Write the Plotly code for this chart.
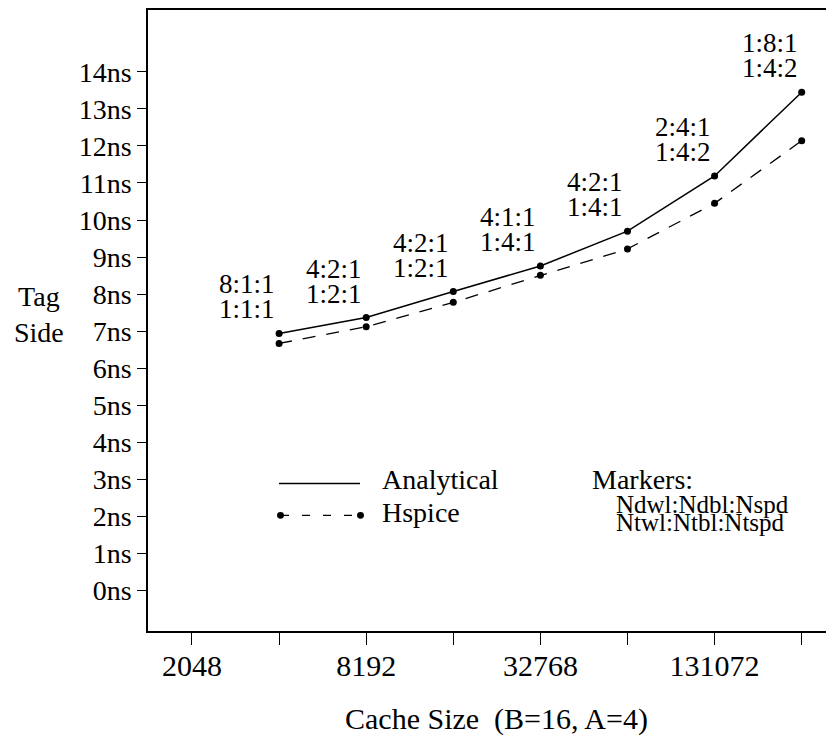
import numpy as np
import plotly.graph_objects as go

# ---- data ----
cache_sizes = [4096, 8192, 16384, 32768, 65536, 131072, 262144]
analytical_ns = [6.94, 7.37, 8.07, 8.76, 9.70, 11.19, 13.45]
hspice_ns = [6.67, 7.12, 7.78, 8.51, 9.22, 10.45, 12.14]
marker_upper = ["8:1:1", "4:2:1", "4:2:1", "4:1:1", "4:2:1", "2:4:1", "1:8:1"]
marker_lower = ["1:1:1", "1:2:1", "1:2:1", "1:4:1", "1:4:1", "1:4:2", "1:4:2"]
x_tick_vals = [2048, 4096, 8192, 16384, 32768, 65536, 131072, 262144]
x_tick_text = ["2048", "", "8192", "", "32768", "", "131072", ""]
y_tick_vals = list(range(0, 15))
y_tick_text = [f"{v}ns" for v in y_tick_vals]

FONT = "Liberation Serif"
OFF = 8  # page body margin
W, H = 826, 734
ML, MR, MT, MB = 140, 0, 0, 111
PW, PH = W - ML - MR, H - MT - MB


def px(xp):
    return (xp - OFF - ML) / PW


def py(yp):
    return (H - MB - (yp - OFF)) / PH


fig = go.Figure()
fig.add_trace(go.Scatter(
    x=cache_sizes, y=analytical_ns, mode="lines+markers", name="Analytical",
    line=dict(color="black", width=1.5),
    marker=dict(color="black", size=7), showlegend=False))
fig.add_trace(go.Scatter(
    x=cache_sizes, y=hspice_ns, mode="lines+markers", name="Hspice",
    line=dict(color="black", width=1.3, dash="13px,11px"),
    marker=dict(color="black", size=7), showlegend=False))

anns = []
for s, a, up, lo in zip(cache_sizes, analytical_ns, marker_upper, marker_lower):
    for txt, ys in ((lo, 24), (up, 49)):
        anns.append(dict(x=np.log10(s), y=a, xref="x", yref="y", text=txt,
                         showarrow=False, xanchor="right", yanchor="middle",
                         xshift=-2, yshift=ys,
                         font=dict(family=FONT, size=27, color="black")))

# axis side label and title
anns.append(dict(x=px(39), y=py(313), xref="paper", yref="paper", text="Tag<br>Side",
                 showarrow=False, xanchor="center", yanchor="middle",
                 font=dict(family=FONT, size=28, color="black")))
anns.append(dict(x=px(496), y=py(719), xref="paper", yref="paper",
                 text="Cache Size  (B=16, A=4)", showarrow=False,
                 xanchor="center", yanchor="middle",
                 font=dict(family=FONT, size=30, color="black")))

# legend text
anns.append(dict(x=px(380), y=py(479), xref="paper", yref="paper", text="Analytical",
                 showarrow=False, xanchor="left", yanchor="middle",
                 font=dict(family=FONT, size=28, color="black")))
anns.append(dict(x=px(380), y=py(512), xref="paper", yref="paper", text="Hspice",
                 showarrow=False, xanchor="left", yanchor="middle",
                 font=dict(family=FONT, size=28, color="black")))
anns.append(dict(x=px(590), y=py(479), xref="paper", yref="paper", text="Markers:",
                 showarrow=False, xanchor="left", yanchor="middle",
                 font=dict(family=FONT, size=28, color="black")))
anns.append(dict(x=px(614), y=py(504), xref="paper", yref="paper", text="Ndwl:Ndbl:Nspd",
                 showarrow=False, xanchor="left", yanchor="middle",
                 font=dict(family=FONT, size=25, color="black")))
anns.append(dict(x=px(614), y=py(522), xref="paper", yref="paper", text="Ntwl:Ntbl:Ntspd",
                 showarrow=False, xanchor="left", yanchor="middle",
                 font=dict(family=FONT, size=25, color="black")))

shapes = [
    dict(type="line", xref="paper", yref="paper", x0=px(279), x1=px(360),
         y0=py(483), y1=py(483), line=dict(color="black", width=1.5)),
    dict(type="line", xref="paper", yref="paper", x0=px(281), x1=px(360),
         y0=py(515), y1=py(515), line=dict(color="black", width=1.3, dash="8px,13px")),
    dict(type="circle", xref="paper", yref="paper", x0=px(277), x1=px(284),
         y0=py(511.5), y1=py(518.5), fillcolor="black", line=dict(width=0)),
    dict(type="circle", xref="paper", yref="paper", x0=px(357), x1=px(364),
         y0=py(511.5), y1=py(518.5), fillcolor="black", line=dict(width=0)),
]

l2 = np.log10(2)
x0 = np.log10(2048)
fig.update_layout(
    width=W, height=H,
    margin=dict(l=ML, r=MR, t=MT, b=MB, pad=0),
    paper_bgcolor="white", plot_bgcolor="white",
    annotations=anns, shapes=shapes,
    xaxis=dict(type="log", range=[x0 - 0.505 * l2, x0 + 7.371 * l2],
               tickvals=x_tick_vals, ticktext=x_tick_text,
               ticks="outside", ticklen=12, tickwidth=1.2, tickcolor="black",
               showline=True, linecolor="black", linewidth=1.5, mirror=True,
               showgrid=False, zeroline=False,
               tickfont=dict(family=FONT, size=30, color="black")),
    yaxis=dict(range=[-1.089, 15.667], tickvals=y_tick_vals, ticktext=y_tick_text,
               ticks="outside", ticklen=9, tickwidth=1.2, tickcolor="black",
               showline=True, linecolor="black", linewidth=1.5, mirror=False,
               showgrid=False, zeroline=False,
               tickfont=dict(family=FONT, size=28, color="black")),
)
try:
    fig.update_xaxes(ticklabelstandoff=-5)
except Exception:
    pass

fig.write_html("out.html")
